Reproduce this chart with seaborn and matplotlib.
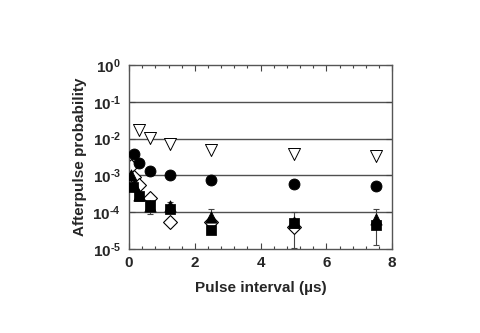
import numpy as np
import pandas as pd
import matplotlib
matplotlib.use('Agg')
import matplotlib.pyplot as plt
import seaborn as sns

# Data (pulse interval in us, afterpulse probability)
x_tri_open = [0.31, 0.64, 1.25, 2.5, 5.0, 7.5]
y_tri_open = [0.017, 0.0105, 0.0071, 0.0049, 0.0038, 0.0034]

x_circle = [0.15, 0.3, 0.625, 1.25, 2.5, 5.0, 7.5]
y_circle = [0.0038, 0.0022, 0.0013, 0.0010, 0.00074, 0.00059, 0.00052]

x_tri = [0.07, 0.15, 0.3, 0.625, 1.25, 2.5, 5.0, 7.5]
y_tri = [0.0010, 0.00055, 0.0003, 0.00015, 0.000148, 0.000076, 0.000056, 0.000066]
err_tri = [0.0, 0.0, 0.0, 0.00006, 0.00004, 0.000045, 0.000045, 0.000053]

x_square = [0.12, 0.3, 0.625, 1.25, 2.5, 5.0, 7.5]
y_square = [0.00049, 0.00028, 0.00016, 0.00012, 0.000032, 0.000052, 0.000045]

x_diamond = [0.05, 0.15, 0.3, 0.625, 1.25, 2.5, 5.0]
y_diamond = [0.0018, 0.0009, 0.00055, 0.00024, 0.000053, 0.000055, 0.000041]

ytick_vals = [1e-5, 1e-4, 1e-3, 1e-2, 1e-1, 1e0]
ytick_labels = ['$\\mathbf{10^{\\text{-}5}}$', '$\\mathbf{10^{\\text{-}4}}$',
                '$\\mathbf{10^{\\text{-}3}}$', '$\\mathbf{10^{\\text{-}2}}$',
                '$\\mathbf{10^{\\text{-}1}}$', '$\\mathbf{10^{0}}$']
xtick_vals = [0, 2, 4, 6, 8]

sns.set_style('ticks')
plt.rcParams['font.family'] = ['Liberation Sans', 'DejaVu Sans']
plt.rcParams['font.weight'] = 'bold'
plt.rcParams['mathtext.fontset'] = 'custom'
plt.rcParams['mathtext.bf'] = 'Liberation Sans:bold'
plt.rcParams['mathtext.rm'] = 'Liberation Sans:bold'

fig = plt.figure(figsize=(4.8, 3.33), dpi=100)
ax = fig.add_axes([0.269, 0.252, 0.548, 0.553])

# Decade grid lines
for v in ytick_vals[1:-1]:
    ax.axhline(v, color='#505050', lw=1.0, zorder=0)

# Error bars on the filled triangles
ax.errorbar(x_tri, y_tri, yerr=err_tri, fmt='none', ecolor='#444444',
            elinewidth=0.8, capsize=2.5, capthick=0.8, zorder=1)

sns.scatterplot(x=x_diamond, y=y_diamond, marker='D', s=50, color='white',
                edgecolor='black', linewidth=0.8, ax=ax, zorder=2)
sns.scatterplot(x=x_square, y=y_square, marker='s', s=45, color='black',
                edgecolor='black', ax=ax, zorder=3)
sns.scatterplot(x=x_tri, y=y_tri, marker='^', s=65, color='black',
                edgecolor='black', ax=ax, zorder=3)
sns.scatterplot(x=x_circle, y=y_circle, marker='o', s=62, color='black',
                edgecolor='black', ax=ax, zorder=3)
sns.scatterplot(x=x_tri_open, y=y_tri_open, marker='v', s=75, color='white',
                edgecolor='black', linewidth=0.7, ax=ax, zorder=3)

ax.set_yscale('log')
ax.set_ylim(1e-5, 1e0)
ax.set_xlim(0, 8)
ax.set_yticks(ytick_vals)
ax.set_yticklabels(ytick_labels, fontsize=11)
ax.yaxis.set_minor_locator(matplotlib.ticker.NullLocator())
ax.set_xticks(xtick_vals)
ax.set_xticklabels([str(v) for v in xtick_vals], fontsize=11, fontweight='bold')
ax.set_xticks(np.arange(0, 8.01, 0.4), minor=True)

ax.tick_params(which='both', direction='in', top=True, right=True,
               color='#444444', width=0.8)
ax.tick_params(which='major', length=4)
ax.tick_params(which='minor', length=2)
ax.tick_params(axis='y', pad=6)
ax.tick_params(axis='x', pad=5)
for s in ax.spines.values():
    s.set_color('#555555')
    s.set_linewidth(1.0)

ax.set_xlabel('Pulse interval (µs)', fontsize=11, fontweight='bold', labelpad=8)
ax.set_ylabel('Afterpulse probability', fontsize=11, fontweight='bold', labelpad=4)

fig.savefig('out.png', dpi=100)
